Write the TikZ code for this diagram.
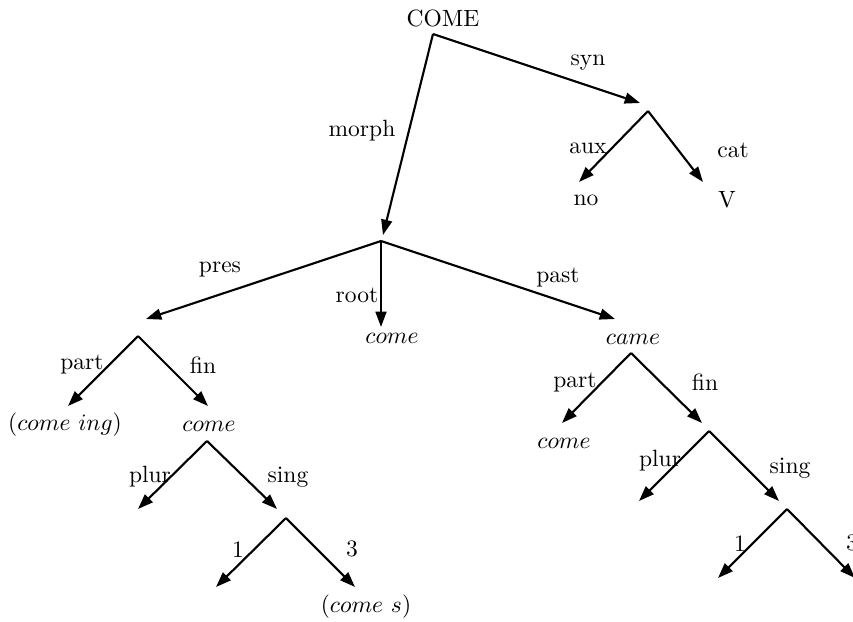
\documentclass[tikz,border=0pt]{standalone}
\usetikzlibrary{arrows.meta}
\begin{document}
\begin{tikzpicture}[x=0.425pt,y=-0.425pt,
  edge/.style={line width=0.9pt,-{Triangle[length=6.5pt,width=4.6pt]}},
  txt/.style={inner sep=0pt,anchor=center},
  lbl/.style={inner sep=0pt,anchor=center}]
\useasboundingbox (0,0) rectangle (853,621);
% text nodes
\node[txt] (COME) at (443,18) {COME};
\node[txt] (no) at (586,200) {no};
\node[txt] (V) at (727,200) {V};
\node[txt] (rootc) at (392,338) {$come$};
\node[txt] (came) at (633,339) {$came$};
\node[txt] (coming) at (65,425) {$(come\ ing)$};
\node[txt] (finc) at (209,426) {$come$};
\node[txt] (partc) at (564,443) {$come$};
\node[txt] (comes) at (366,607) {$(come\ s)$};
% vertices and tips
\coordinate (r) at (433,34);
\coordinate (synT) at (640,103); \coordinate (synV) at (648,111);
\coordinate (auxT) at (579,182); \coordinate (catT) at (703,182);
\coordinate (morT) at (383,235); \coordinate (morV) at (381,241);
\coordinate (presT) at (146,319); \coordinate (presV) at (138,336);
\coordinate (rootT) at (381,327);
\coordinate (pastT) at (615,319); \coordinate (pastV) at (631,353);
\coordinate (ppartT) at (68,406); \coordinate (pfinT) at (208,406); \coordinate (pfinV) at (207,441);
\coordinate (pplurT) at (138,509); \coordinate (psingT) at (277,509); \coordinate (psingV) at (286,518);
\coordinate (p1T) at (216,587); \coordinate (p3T) at (355,587);
\coordinate (qpartT) at (562,423); \coordinate (qfinT) at (702,423); \coordinate (qfinV) at (709,431);
\coordinate (qplurT) at (639,501); \coordinate (qsingT) at (779,501); \coordinate (qsingV) at (787,509);
\coordinate (q1T) at (718,578); \coordinate (q3T) at (855,578);
% edges
\draw[edge] (r) -- (synT);
\draw[edge] (r) -- (morT);
\draw[edge] (synV) -- (auxT);
\draw[edge] (synV) -- (catT);
\draw[edge] (morV) -- (presT);
\draw[edge] (morV) -- (rootT);
\draw[edge] (morV) -- (pastT);
\draw[edge] (presV) -- (ppartT);
\draw[edge] (presV) -- (pfinT);
\draw[edge] (pfinV) -- (pplurT);
\draw[edge] (pfinV) -- (psingT);
\draw[edge] (psingV) -- (p1T);
\draw[edge] (psingV) -- (p3T);
\draw[edge] (pastV) -- (qpartT);
\draw[edge] (pastV) -- (qfinT);
\draw[edge] (qfinV) -- (qplurT);
\draw[edge] (qfinV) -- (qsingT);
\draw[edge] (qsingV) -- (q1T);
\draw[edge] (qsingV) -- (q3T);
% labels
\node[lbl] (l1) at (588,63) {syn};
\node[lbl] (l2) at (362,131) {morph};
\node[lbl] (l3) at (588,148) {aux};
\node[lbl] (l4) at (733,150) {cat};
\node[lbl] (l5) at (220,270) {pres};
\node[lbl] (l6) at (357,295) {root};
\node[lbl] (l7) at (558,278) {past};
\node[lbl] (l8) at (82,365) {part};
\node[lbl] (l9) at (203,365) {fin};
\node[lbl] (l10) at (150,477) {plur};
\node[lbl] (l11) at (288,477) {sing};
\node[lbl] (l12) at (238,550) {1};
\node[lbl] (l13) at (352,549) {3};
\node[lbl] (l14) at (575,383) {part};
\node[lbl] (l15) at (705,382) {fin};
\node[lbl] (l16) at (660,461) {plur};
\node[lbl] (l17) at (790,468) {sing};
\node[lbl] (l18) at (740,544) {1};
\node[lbl] (l19) at (852,543) {3};
\end{tikzpicture}
\end{document}
